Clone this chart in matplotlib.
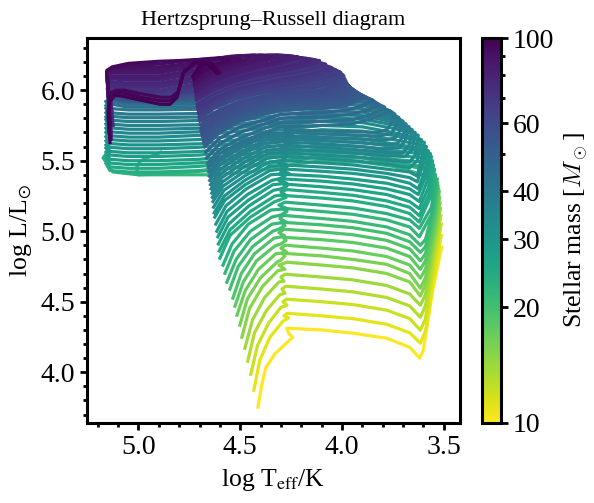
"""Hertzsprung-Russell diagram, stellar tracks coloured by initial mass."""
import matplotlib
matplotlib.use("Agg")
import matplotlib.pyplot as plt
from matplotlib.colors import LogNorm
from matplotlib.cm import ScalarMappable
from matplotlib.ticker import FixedLocator, FixedFormatter, MultipleLocator, NullFormatter

plt.rcParams["font.family"] = ["Liberation Serif", "DejaVu Serif"]
plt.rcParams["mathtext.fontset"] = "stix"

masses = [10, 11, 12, 13, 14, 15, 16, 17, 18, 19, 20, 21, 22, 23, 24, 25, 26, 27, 28, 29, 30,
          31, 32, 33, 34, 35, 36, 37, 38, 39, 40, 42, 44, 46, 48, 50, 51, 52, 53, 54, 55, 56, 57, 58, 59, 60,
          62, 63, 65, 66, 68, 70, 72, 75, 77, 78, 80, 82, 83, 85, 87, 88, 90, 93, 95, 96, 98, 100]

log_teff = [
    [4.413, 4.394, 4.375, 4.33, 4.242, 4.262, 4.271, 4.10, 3.947, 3.78, 3.667, 3.618, 3.60, 3.554, 3.51],
    [4.433, 4.404, 4.354, 4.291, 4.262, 4.285, 4.268, 4.10, 3.947, 3.78, 3.667, 3.615, 3.59, 3.55, 3.512],
    [4.448, 4.415, 4.36, 4.30, 4.27, 4.29, 4.272, 4.10, 3.947, 3.78, 3.667, 3.615, 3.59, 3.55, 3.512],
    [4.463, 4.43, 4.37, 4.305, 4.28, 4.295, 4.275, 4.10, 3.947, 3.78, 3.667, 3.615, 3.59, 3.55, 3.514],
    [4.477, 4.44, 4.38, 4.31, 4.285, 4.30, 4.28, 4.10, 3.947, 3.78, 3.667, 3.615, 3.59, 3.55, 3.516],
    [4.492, 4.455, 4.39, 4.315, 4.28, 4.31, 4.27, 4.10, 3.947, 3.78, 3.667, 3.615, 3.59, 3.55, 3.518],
    [4.502, 4.465, 4.40, 4.32, 4.30, 4.28, 4.295, 4.10, 3.947, 3.78, 3.667, 3.615, 3.59, 3.55, 3.52],
    [4.516, 4.475, 4.41, 4.325, 4.27, 4.30, 4.28, 4.10, 3.947, 3.78, 3.667, 3.615, 3.59, 3.55, 3.522],
    [4.526, 4.485, 4.42, 4.33, 4.30, 4.275, 4.29, 4.10, 3.947, 3.78, 3.667, 3.615, 3.59, 3.55, 3.525],
    [4.536, 4.495, 4.43, 4.335, 4.28, 4.31, 4.285, 4.10, 3.947, 3.78, 3.667, 3.615, 3.59, 3.55, 3.528],
    [4.551, 4.51, 4.44, 4.34, 4.31, 4.28, 4.30, 4.10, 3.947, 3.78, 3.667, 3.615, 3.59, 3.55, 3.53],
    [4.566, 4.52, 4.45, 4.345, 4.275, 4.305, 4.29, 4.10, 3.947, 3.78, 3.667, 3.615, 3.59, 3.55, 3.532],
    [4.575, 4.53, 4.45, 4.345, 4.30, 4.27, 4.295, 4.10, 3.947, 3.78, 3.667, 3.62, 3.56, 3.535, 3.60, 3.75, 3.90, 4.10, 4.26, 4.45, 4.65, 4.85, 5.0, 5.01, 4.99, 4.89],
    [4.585, 4.54, 4.46, 4.35, 4.27, 4.31, 4.28, 4.10, 3.947, 3.78, 3.667, 3.62, 3.56, 3.54, 3.60, 3.75, 3.90, 4.10, 4.26, 4.45, 4.65, 4.85, 5.0, 5.125, 5.174, 5.15],
    [4.60, 4.55, 4.45, 4.33, 4.31, 4.275, 4.30, 4.10, 3.947, 3.78, 3.667, 3.62, 3.565, 3.545, 3.60, 3.75, 3.90, 4.10, 4.30, 4.50, 4.70, 4.90, 5.05, 5.14, 5.16],
    [4.603, 4.55, 4.45, 4.33, 4.28, 4.30, 4.27, 4.10, 3.947, 3.78, 3.667, 3.62, 3.57, 3.55, 3.60, 3.75, 3.90, 4.10, 4.30, 4.50, 4.70, 4.90, 5.05, 5.14, 5.16],
    [4.607, 4.557, 4.457, 4.337, 4.30, 4.27, 4.29, 4.10, 3.947, 3.78, 3.667, 3.62, 3.575, 3.555, 3.60, 3.75, 3.90, 4.10, 4.30, 4.50, 4.70, 4.90, 5.05, 5.14, 5.16],
    [4.61, 4.56, 4.46, 4.34, 4.27, 4.31, 4.28, 4.10, 3.947, 3.78, 3.667, 3.62, 3.58, 3.56, 3.61, 3.75, 3.90, 4.10, 4.30, 4.50, 4.70, 4.90, 5.05, 5.14, 5.16],
    [4.615, 4.565, 4.465, 4.345, 4.30, 4.28, 4.31, 4.10, 3.947, 3.78, 3.667, 3.625, 3.585, 3.565, 3.615, 3.75, 3.90, 4.10, 4.30, 4.50, 4.70, 4.90, 5.05, 5.14, 5.16],
    [4.62, 4.57, 4.47, 4.35, 4.26, 4.30, 4.27, 4.10, 3.947, 3.78, 3.667, 3.625, 3.59, 3.575, 3.625, 3.75, 3.90, 4.10, 4.30, 4.50, 4.70, 4.90, 5.05, 5.14, 5.16],
    [4.625, 4.575, 4.475, 4.355, 4.30, 4.27, 4.29, 4.10, 3.947, 3.78, 3.667, 3.63, 3.60, 3.585, 3.635, 3.75, 3.90, 4.10, 4.30, 4.50, 4.70, 4.90, 5.05, 5.14, 5.16],
    [4.628, 4.578, 4.478, 4.358, 4.27, 4.31, 4.28, 4.10, 3.947, 3.78, 3.667, 3.63, 3.61, 3.595, 3.645, 3.75, 3.90, 4.10, 4.30, 4.50, 4.70, 4.90, 5.05, 5.14, 5.16],
    [4.631, 4.58, 4.48, 4.36, 4.30, 4.28, 4.30, 4.10, 3.947, 3.78, 3.667, 3.63, 3.61, 3.66, 3.75, 3.90, 4.10, 4.30, 4.50, 4.70, 4.90, 5.05, 5.14, 5.16],
    [4.634, 4.584, 4.484, 4.364, 4.27, 4.29, 4.26, 4.10, 3.947, 3.78, 3.667, 3.64, 3.625, 3.67, 3.75, 3.90, 4.10, 4.30, 4.50, 4.70, 4.90, 5.05, 5.14, 5.16],
    [4.637, 4.587, 4.487, 4.367, 4.29, 4.27, 4.30, 4.10, 3.947, 3.78, 3.69, 3.655, 3.64, 3.68, 3.75, 3.90, 4.10, 4.30, 4.50, 4.70, 4.90, 5.05, 5.14, 5.16],
    [4.64, 4.59, 4.49, 4.37, 4.27, 4.30, 4.28, 4.10, 3.947, 3.78, 3.70, 3.67, 3.655, 3.69, 3.75, 3.90, 4.10, 4.30, 4.50, 4.70, 4.90, 5.05, 5.14, 5.16],
    [4.643, 4.593, 4.493, 4.373, 4.25, 4.28, 4.26, 4.10, 3.947, 3.80, 3.72, 3.69, 3.67, 3.70, 3.75, 3.90, 4.10, 4.30, 4.50, 4.70, 4.90, 5.05, 5.14, 5.16],
    [4.646, 4.596, 4.496, 4.376, 4.28, 4.26, 4.29, 4.10, 3.947, 3.80, 3.73, 3.70, 3.685, 3.71, 3.76, 3.90, 4.10, 4.30, 4.50, 4.70, 4.90, 5.05, 5.14, 5.16],
    [4.65, 4.60, 4.50, 4.38, 4.26, 4.29, 4.27, 4.10, 3.947, 3.80, 3.74, 3.72, 3.70, 3.725, 3.77, 3.90, 4.10, 4.30, 4.50, 4.70, 4.90, 5.05, 5.14, 5.16],
    [4.652, 4.60, 4.50, 4.38, 4.24, 4.27, 4.25, 4.10, 3.947, 3.82, 3.76, 3.74, 3.72, 3.745, 3.79, 3.90, 4.10, 4.30, 4.50, 4.70, 4.90, 5.05, 5.14, 5.16],
    [4.654, 4.60, 4.50, 4.38, 4.27, 4.25, 4.28, 4.10, 3.947, 3.83, 3.78, 3.76, 3.74, 3.76, 3.80, 3.90, 4.10, 4.30, 4.50, 4.70, 4.90, 5.05, 5.14, 5.16],
    [4.657, 4.60, 4.50, 4.38, 4.30, 4.10, 3.95, 3.85, 3.76, 3.80, 3.90, 4.10, 4.30, 4.50, 4.70, 4.90, 5.05, 5.13, 5.15],
    [4.66, 4.60, 4.50, 4.38, 4.30, 4.10, 3.95, 3.85, 3.79, 3.82, 3.90, 4.10, 4.30, 4.50, 4.70, 4.90, 5.05, 5.13, 5.15],
    [4.665, 4.60, 4.50, 4.38, 4.30, 4.10, 3.95, 3.87, 3.82, 3.85, 3.92, 4.10, 4.30, 4.50, 4.70, 4.90, 5.05, 5.13, 5.15],
    [4.67, 4.60, 4.50, 4.38, 4.30, 4.10, 3.97, 3.90, 3.85, 3.88, 3.94, 4.10, 4.30, 4.50, 4.70, 4.90, 5.05, 5.13, 5.15],
    [4.675, 4.60, 4.50, 4.38, 4.30, 4.10, 3.98, 3.93, 3.88, 3.91, 3.96, 4.10, 4.30, 4.50, 4.70, 4.90, 5.05, 5.13, 5.15],
    [4.678, 4.60, 4.50, 4.38, 4.30, 4.10, 3.985, 3.94, 3.895, 3.92, 3.965, 4.10, 4.30, 4.50, 4.70, 4.90, 5.05, 5.13, 5.15],
    [4.68, 4.60, 4.50, 4.38, 4.30, 4.10, 3.99, 3.95, 3.91, 3.93, 3.97, 4.10, 4.30, 4.50, 4.70, 4.90, 5.05, 5.13, 5.15],
    [4.682, 4.60, 4.50, 4.38, 4.30, 4.10, 3.995, 3.96, 3.925, 3.945, 3.98, 4.10, 4.30, 4.50, 4.70, 4.90, 5.05, 5.13, 5.15],
    [4.685, 4.60, 4.50, 4.38, 4.30, 4.10, 4.00, 3.97, 3.94, 3.96, 3.99, 4.10, 4.30, 4.50, 4.70, 4.90, 5.05, 5.13, 5.15],
    [4.688, 4.60, 4.50, 4.38, 4.30, 4.10, 4.01, 3.98, 3.95, 3.97, 4.00, 4.10, 4.30, 4.50, 4.70, 4.90, 5.05, 5.13, 5.15],
    [4.69, 4.60, 4.50, 4.38, 4.30, 4.10, 4.02, 3.99, 3.96, 3.98, 4.01, 4.10, 4.30, 4.50, 4.70, 4.90, 5.05, 5.13, 5.15],
    [4.692, 4.60, 4.50, 4.38, 4.30, 4.10, 4.025, 3.995, 3.968, 3.99, 4.02, 4.10, 4.30, 4.50, 4.70, 4.90, 5.05, 5.13, 5.15],
    [4.693, 4.60, 4.50, 4.38, 4.30, 4.10, 4.03, 4.00, 3.975, 4.00, 4.03, 4.10, 4.30, 4.50, 4.70, 4.90, 5.05, 5.13, 5.15],
    [4.695, 4.60, 4.50, 4.38, 4.30, 4.10, 4.035, 4.005, 3.98, 4.005, 4.04, 4.10, 4.30, 4.50, 4.70, 4.90, 5.05, 5.13, 5.15],
    [4.698, 4.60, 4.50, 4.38, 4.30, 4.10, 4.04, 4.01, 3.985, 4.01, 4.05, 4.10, 4.30, 4.50, 4.70, 4.90, 5.05, 5.13, 5.15],
    [4.70, 4.62, 4.52, 4.40, 4.30, 4.13, 4.05, 4.015, 3.99, 4.02, 4.08, 4.30, 4.50, 4.70, 4.90, 5.05, 5.13, 5.15],
    [4.70, 4.62, 4.52, 4.40, 4.30, 4.15, 4.06, 4.02, 3.995, 4.03, 4.10, 4.30, 4.50, 4.70, 4.90, 5.05, 5.13, 5.15],
    [4.703, 4.62, 4.52, 4.40, 4.30, 4.17, 4.07, 4.03, 4.005, 4.04, 4.11, 4.30, 4.50, 4.70, 4.90, 5.05, 5.13, 5.15],
    [4.705, 4.62, 4.52, 4.40, 4.30, 4.18, 4.08, 4.04, 4.01, 4.05, 4.12, 4.30, 4.50, 4.70, 4.90, 5.05, 5.13, 5.15],
    [4.708, 4.62, 4.52, 4.40, 4.30, 4.19, 4.10, 4.06, 4.03, 4.07, 4.13, 4.30, 4.50, 4.70, 4.90, 5.05, 5.13, 5.15],
    [4.71, 4.62, 4.52, 4.40, 4.30, 4.20, 4.12, 4.08, 4.05, 4.09, 4.15, 4.30, 4.50, 4.70, 4.90, 5.05, 5.13, 5.15, 5.14, 5.13],
    [4.712, 4.625, 4.525, 4.41, 4.31, 4.22, 4.145, 4.105, 4.08, 4.12, 4.185, 4.32, 4.50, 4.70, 4.90, 5.05, 5.13, 5.15, 5.14, 5.13],
    [4.715, 4.63, 4.53, 4.42, 4.32, 4.24, 4.17, 4.13, 4.11, 4.15, 4.22, 4.35, 4.50, 4.70, 4.90, 5.05, 5.13, 5.15, 5.14, 5.125],
    [4.716, 4.633, 4.535, 4.425, 4.33, 4.255, 4.19, 4.15, 4.13, 4.17, 4.24, 4.38, 4.50, 4.70, 4.90, 5.05, 5.13, 5.155, 5.15, 5.14],
    [4.717, 4.635, 4.54, 4.43, 4.34, 4.27, 4.21, 4.175, 4.155, 4.195, 4.27, 4.40, 4.50, 4.70, 4.90, 5.05, 5.13, 5.155, 5.15, 5.14],
    [4.718, 4.64, 4.55, 4.45, 4.36, 4.30, 4.25, 4.22, 4.20, 4.24, 4.32, 4.50, 4.70, 4.90, 5.05, 5.13, 5.155, 5.15, 5.14],
    [4.719, 4.643, 4.555, 4.46, 4.37, 4.31, 4.26, 4.23, 4.215, 4.26, 4.34, 4.50, 4.70, 4.90, 5.05, 5.13, 5.155, 5.15, 5.14],
    [4.72, 4.645, 4.56, 4.465, 4.38, 4.32, 4.275, 4.33, 4.50, 4.70, 4.90, 5.05, 5.13, 5.155, 5.15, 5.135],
    [4.722, 4.65, 4.57, 4.48, 4.40, 4.34, 4.30, 4.36, 4.50, 4.70, 4.90, 5.05, 5.13, 5.155, 5.15, 5.135],
    [4.723, 4.653, 4.573, 4.485, 4.415, 4.37, 4.35, 4.40, 4.52, 4.70, 4.90, 5.05, 5.13, 5.155, 5.15, 5.135],
    [4.724, 4.655, 4.575, 4.49, 4.43, 4.40, 4.43, 4.55, 4.72, 4.90, 5.05, 5.13, 5.155, 5.15, 5.135],
    [4.725, 4.66, 4.58, 4.50, 4.46, 4.45, 4.50, 4.60, 4.75, 4.90, 5.05, 5.13, 5.155, 5.15, 5.14],
    [4.727, 4.67, 4.60, 4.53, 4.50, 4.55, 4.65, 4.78, 4.90, 5.05, 5.13, 5.155, 5.15, 5.14],
    [4.728, 4.68, 4.63, 4.58, 4.55, 4.60, 4.68, 4.80, 4.90, 5.05, 5.13, 5.155, 5.15, 5.14],
    [4.729, 4.69, 4.664, 4.63, 4.60, 4.664, 4.72, 4.775, 4.79, 4.805, 4.84, 4.89, 4.99, 5.07, 5.11, 5.14, 5.15, 5.145],
    [4.73, 4.695, 4.67, 4.635, 4.61, 4.67, 4.72, 4.778, 4.793, 4.808, 4.842, 4.892, 4.99, 5.073, 5.112, 5.14, 5.148, 5.14],
    [4.732, 4.70, 4.674, 4.64, 4.615, 4.674, 4.723, 4.78, 4.796, 4.81, 4.845, 4.894, 4.993, 5.076, 5.115, 5.14, 5.145, 5.14],
]

log_lum = [
    [3.752, 3.91, 4.03, 4.13, 4.248, 4.275, 4.312, 4.30, 4.277, 4.241, 4.177, 4.10, 4.156, 4.58, 4.887],
    [3.872, 4.085, 4.248, 4.36, 4.385, 4.40, 4.418, 4.40, 4.38, 4.34, 4.28, 4.206, 4.29, 4.65, 4.97],
    [3.986, 4.19, 4.35, 4.46, 4.475, 4.50, 4.518, 4.50, 4.48, 4.44, 4.38, 4.298, 4.38, 4.75, 5.05],
    [4.078, 4.28, 4.44, 4.55, 4.56, 4.59, 4.61, 4.59, 4.57, 4.53, 4.47, 4.39, 4.47, 4.82, 5.11],
    [4.17, 4.37, 4.53, 4.64, 4.645, 4.675, 4.695, 4.675, 4.655, 4.615, 4.555, 4.475, 4.55, 4.88, 5.16],
    [4.248, 4.45, 4.61, 4.72, 4.73, 4.76, 4.78, 4.76, 4.74, 4.70, 4.64, 4.54, 4.62, 4.92, 5.20],
    [4.333, 4.52, 4.67, 4.78, 4.795, 4.825, 4.844, 4.825, 4.80, 4.765, 4.70, 4.596, 4.67, 4.96, 5.24],
    [4.404, 4.58, 4.73, 4.84, 4.85, 4.88, 4.901, 4.88, 4.86, 4.82, 4.76, 4.667, 4.73, 5.0, 5.28],
    [4.468, 4.64, 4.79, 4.895, 4.91, 4.935, 4.957, 4.94, 4.92, 4.88, 4.82, 4.73, 4.79, 5.04, 5.30],
    [4.525, 4.70, 4.84, 4.95, 4.965, 4.99, 5.014, 4.995, 4.975, 4.935, 4.875, 4.79, 4.84, 5.08, 5.32],
    [4.589, 4.75, 4.89, 5.0, 5.015, 5.04, 5.064, 5.045, 5.025, 4.985, 4.925, 4.85, 4.89, 5.12, 5.34],
    [4.638, 4.80, 4.94, 5.05, 5.065, 5.09, 5.113, 5.09, 5.07, 5.03, 4.975, 4.90, 4.94, 5.16, 5.37],
    [4.702, 4.86, 5.0, 5.10, 5.115, 5.14, 5.163, 5.14, 5.12, 5.08, 5.03, 4.96, 5.12, 5.36, 5.40, 5.46, 5.49, 5.50, 5.47, 5.42, 5.40, 5.40, 5.40, 5.45, 5.50, 5.56],
    [4.759, 4.91, 5.05, 5.15, 5.16, 5.185, 5.206, 5.185, 5.165, 5.125, 5.08, 5.02, 5.17, 5.40, 5.44, 5.49, 5.52, 5.53, 5.50, 5.46, 5.43, 5.41, 5.40, 5.42, 5.52, 5.565],
    [4.809, 4.97, 5.10, 5.21, 5.22, 5.24, 5.255, 5.235, 5.215, 5.175, 5.125, 5.065, 5.245, 5.44, 5.46, 5.48, 5.52, 5.53, 5.50, 5.46, 5.43, 5.42, 5.42, 5.43, 5.48],
    [4.86, 5.01, 5.14, 5.25, 5.26, 5.28, 5.295, 5.275, 5.255, 5.215, 5.17, 5.11, 5.27, 5.47, 5.49, 5.51, 5.55, 5.56, 5.53, 5.49, 5.46, 5.446, 5.446, 5.456, 5.51],
    [4.91, 5.05, 5.18, 5.29, 5.30, 5.32, 5.335, 5.315, 5.295, 5.26, 5.21, 5.16, 5.31, 5.50, 5.52, 5.54, 5.57, 5.585, 5.55, 5.515, 5.485, 5.473, 5.473, 5.483, 5.53],
    [4.96, 5.10, 5.22, 5.33, 5.34, 5.36, 5.37, 5.355, 5.335, 5.30, 5.26, 5.21, 5.36, 5.53, 5.55, 5.57, 5.60, 5.61, 5.58, 5.54, 5.51, 5.50, 5.50, 5.51, 5.56],
    [5.0, 5.14, 5.26, 5.36, 5.375, 5.39, 5.405, 5.39, 5.37, 5.34, 5.30, 5.26, 5.40, 5.55, 5.57, 5.60, 5.63, 5.64, 5.61, 5.57, 5.54, 5.53, 5.53, 5.54, 5.59],
    [5.05, 5.18, 5.30, 5.40, 5.41, 5.425, 5.44, 5.425, 5.41, 5.38, 5.34, 5.30, 5.44, 5.57, 5.59, 5.62, 5.655, 5.665, 5.635, 5.595, 5.565, 5.556, 5.556, 5.566, 5.61],
    [5.10, 5.22, 5.33, 5.43, 5.44, 5.455, 5.47, 5.455, 5.44, 5.41, 5.38, 5.35, 5.48, 5.60, 5.62, 5.65, 5.68, 5.69, 5.665, 5.625, 5.595, 5.585, 5.585, 5.595, 5.64],
    [5.13, 5.25, 5.36, 5.46, 5.47, 5.485, 5.50, 5.485, 5.47, 5.44, 5.42, 5.39, 5.51, 5.63, 5.65, 5.68, 5.71, 5.72, 5.69, 5.65, 5.62, 5.612, 5.612, 5.622, 5.67],
    [5.17, 5.29, 5.39, 5.49, 5.50, 5.515, 5.53, 5.515, 5.50, 5.475, 5.45, 5.50, 5.65, 5.67, 5.70, 5.74, 5.75, 5.72, 5.68, 5.65, 5.64, 5.64, 5.65, 5.70],
    [5.21, 5.32, 5.42, 5.52, 5.53, 5.54, 5.555, 5.54, 5.53, 5.505, 5.49, 5.54, 5.68, 5.70, 5.73, 5.77, 5.78, 5.75, 5.71, 5.68, 5.667, 5.667, 5.677, 5.73],
    [5.24, 5.35, 5.45, 5.55, 5.56, 5.57, 5.58, 5.57, 5.555, 5.535, 5.53, 5.58, 5.70, 5.72, 5.755, 5.795, 5.805, 5.775, 5.735, 5.705, 5.695, 5.695, 5.705, 5.76],
    [5.27, 5.38, 5.48, 5.575, 5.585, 5.595, 5.605, 5.595, 5.58, 5.56, 5.555, 5.61, 5.72, 5.74, 5.775, 5.82, 5.83, 5.80, 5.76, 5.73, 5.723, 5.723, 5.733, 5.79],
    [5.30, 5.41, 5.51, 5.60, 5.61, 5.62, 5.63, 5.62, 5.605, 5.585, 5.59, 5.64, 5.74, 5.76, 5.79, 5.845, 5.855, 5.825, 5.785, 5.755, 5.75, 5.75, 5.76, 5.81],
    [5.33, 5.44, 5.54, 5.625, 5.635, 5.645, 5.655, 5.645, 5.63, 5.615, 5.62, 5.67, 5.76, 5.78, 5.81, 5.87, 5.88, 5.85, 5.81, 5.785, 5.778, 5.778, 5.788, 5.84],
    [5.36, 5.47, 5.56, 5.645, 5.655, 5.665, 5.675, 5.665, 5.655, 5.645, 5.66, 5.70, 5.78, 5.80, 5.83, 5.895, 5.905, 5.875, 5.84, 5.81, 5.805, 5.805, 5.815, 5.87],
    [5.39, 5.50, 5.59, 5.67, 5.68, 5.69, 5.70, 5.69, 5.68, 5.675, 5.69, 5.73, 5.805, 5.825, 5.85, 5.915, 5.925, 5.895, 5.86, 5.835, 5.83, 5.83, 5.84, 5.89],
    [5.42, 5.52, 5.61, 5.69, 5.70, 5.71, 5.72, 5.71, 5.705, 5.70, 5.72, 5.76, 5.83, 5.85, 5.875, 5.935, 5.945, 5.915, 5.885, 5.865, 5.86, 5.86, 5.87, 5.92],
    [5.45, 5.55, 5.63, 5.70, 5.74, 5.75, 5.76, 5.80, 5.85, 5.87, 5.92, 5.93, 5.93, 5.90, 5.88, 5.88, 5.88, 5.90, 5.95],
    [5.48, 5.58, 5.66, 5.73, 5.77, 5.78, 5.79, 5.83, 5.88, 5.90, 5.95, 5.96, 5.95, 5.92, 5.90, 5.90, 5.90, 5.92, 5.97],
    [5.52, 5.62, 5.70, 5.76, 5.80, 5.81, 5.83, 5.86, 5.90, 5.93, 5.97, 5.98, 5.97, 5.94, 5.92, 5.92, 5.92, 5.94, 5.99],
    [5.56, 5.66, 5.74, 5.79, 5.83, 5.84, 5.86, 5.89, 5.93, 5.95, 5.99, 6.0, 5.99, 5.96, 5.93, 5.93, 5.93, 5.95, 6.0],
    [5.60, 5.70, 5.78, 5.83, 5.86, 5.87, 5.89, 5.92, 5.95, 5.97, 6.01, 6.02, 6.01, 5.98, 5.94, 5.94, 5.94, 5.96, 6.01],
    [5.62, 5.715, 5.795, 5.845, 5.875, 5.885, 5.905, 5.93, 5.96, 5.98, 6.02, 6.03, 6.02, 5.99, 5.945, 5.92, 5.92, 5.94, 6.0],
    [5.64, 5.73, 5.81, 5.86, 5.89, 5.90, 5.92, 5.94, 5.97, 5.99, 6.03, 6.04, 6.03, 6.0, 5.95, 5.92, 5.92, 5.94, 6.0],
    [5.655, 5.745, 5.825, 5.875, 5.90, 5.915, 5.935, 5.955, 5.98, 6.005, 6.04, 6.05, 6.04, 6.01, 5.955, 5.925, 5.925, 5.945, 6.0],
    [5.67, 5.76, 5.84, 5.89, 5.91, 5.93, 5.95, 5.97, 5.99, 6.02, 6.05, 6.06, 6.05, 6.02, 5.96, 5.93, 5.93, 5.95, 6.0],
    [5.685, 5.775, 5.85, 5.90, 5.925, 5.94, 5.96, 5.98, 6.005, 6.035, 6.06, 6.07, 6.06, 6.03, 5.965, 5.935, 5.935, 5.955, 6.005],
    [5.70, 5.79, 5.86, 5.91, 5.94, 5.95, 5.97, 5.99, 6.02, 6.05, 6.07, 6.08, 6.07, 6.04, 5.97, 5.94, 5.94, 5.96, 6.01],
    [5.715, 5.805, 5.875, 5.925, 5.95, 5.965, 5.985, 6.005, 6.035, 6.065, 6.08, 6.09, 6.08, 6.05, 5.975, 5.94, 5.94, 5.96, 6.01],
    [5.73, 5.82, 5.89, 5.94, 5.96, 5.98, 6.0, 6.02, 6.05, 6.08, 6.09, 6.10, 6.09, 6.06, 5.98, 5.94, 5.94, 5.96, 6.01],
    [5.755, 5.84, 5.905, 5.95, 5.97, 5.99, 6.015, 6.035, 6.065, 6.095, 6.105, 6.11, 6.10, 6.065, 5.985, 5.945, 5.945, 5.965, 6.015],
    [5.78, 5.86, 5.92, 5.96, 5.98, 6.0, 6.03, 6.05, 6.08, 6.11, 6.12, 6.12, 6.11, 6.07, 5.99, 5.95, 5.95, 5.97, 6.02],
    [5.80, 5.88, 5.94, 5.98, 6.0, 6.02, 6.05, 6.07, 6.10, 6.12, 6.13, 6.115, 6.07, 5.995, 5.95, 5.95, 5.97, 6.02],
    [5.81, 5.89, 5.95, 5.99, 6.01, 6.04, 6.07, 6.09, 6.11, 6.13, 6.14, 6.12, 6.08, 6.0, 5.96, 5.96, 5.98, 6.03],
    [5.83, 5.91, 5.97, 6.01, 6.03, 6.06, 6.09, 6.11, 6.125, 6.145, 6.155, 6.135, 6.10, 6.01, 5.96, 5.96, 5.98, 6.03],
    [5.84, 5.92, 5.98, 6.02, 6.04, 6.07, 6.10, 6.12, 6.13, 6.15, 6.16, 6.14, 6.10, 6.02, 5.97, 5.97, 5.99, 6.04],
    [5.86, 5.935, 5.995, 6.035, 6.06, 6.085, 6.115, 6.135, 6.145, 6.165, 6.175, 6.16, 6.12, 6.03, 5.98, 5.98, 6.0, 6.05],
    [5.88, 5.95, 6.01, 6.05, 6.08, 6.10, 6.13, 6.15, 6.16, 6.18, 6.19, 6.18, 6.14, 6.04, 5.99, 5.99, 6.01, 6.06, 6.0, 5.85],
    [5.90, 5.975, 6.035, 6.075, 6.105, 6.125, 6.15, 6.17, 6.185, 6.20, 6.205, 6.20, 6.16, 6.05, 6.0, 6.0, 6.02, 6.07, 6.0, 5.80],
    [5.93, 6.0, 6.06, 6.10, 6.13, 6.15, 6.17, 6.19, 6.21, 6.215, 6.22, 6.22, 6.18, 6.07, 6.02, 6.02, 6.03, 6.08, 6.0, 5.75],
    [5.95, 6.02, 6.07, 6.11, 6.14, 6.16, 6.18, 6.20, 6.215, 6.225, 6.23, 6.23, 6.195, 6.09, 6.035, 6.035, 6.05, 6.09, 6.0, 5.73],
    [5.96, 6.03, 6.08, 6.12, 6.15, 6.17, 6.19, 6.205, 6.22, 6.23, 6.235, 6.235, 6.20, 6.10, 6.05, 6.05, 6.06, 6.10, 6.0, 5.72],
    [5.98, 6.05, 6.10, 6.14, 6.17, 6.19, 6.21, 6.22, 6.23, 6.24, 6.25, 6.21, 6.12, 6.07, 6.07, 6.08, 6.11, 6.0, 5.70],
    [5.99, 6.06, 6.11, 6.15, 6.18, 6.20, 6.22, 6.23, 6.235, 6.245, 6.25, 6.225, 6.14, 6.085, 6.085, 6.09, 6.12, 6.0, 5.69],
    [6.0, 6.065, 6.115, 6.155, 6.185, 6.205, 6.235, 6.245, 6.23, 6.15, 6.10, 6.10, 6.10, 6.125, 6.0, 5.68],
    [6.02, 6.08, 6.13, 6.17, 6.20, 6.22, 6.24, 6.25, 6.24, 6.17, 6.12, 6.12, 6.12, 6.13, 6.0, 5.65],
    [6.03, 6.095, 6.145, 6.18, 6.21, 6.225, 6.24, 6.25, 6.24, 6.18, 6.135, 6.135, 6.135, 6.13, 6.02, 5.66],
    [6.04, 6.10, 6.15, 6.19, 6.215, 6.235, 6.25, 6.24, 6.19, 6.15, 6.15, 6.14, 6.13, 6.03, 5.70],
    [6.05, 6.11, 6.16, 6.20, 6.22, 6.24, 6.245, 6.23, 6.19, 6.165, 6.16, 6.15, 6.13, 6.05, 5.75],
    [6.07, 6.13, 6.17, 6.205, 6.22, 6.235, 6.225, 6.205, 6.185, 6.175, 6.155, 6.14, 6.05, 5.72],
    [6.08, 6.14, 6.18, 6.20, 6.215, 6.225, 6.22, 6.21, 6.205, 6.19, 6.165, 6.14, 6.06, 5.75],
    [6.09, 6.15, 6.19, 6.18, 6.12, 6.19, 6.19, 6.14, 6.06, 5.99, 5.95, 5.95, 5.975, 6.0, 6.0, 5.98, 5.85, 5.70],
    [6.095, 6.16, 6.195, 6.185, 6.12, 6.2, 6.195, 6.13, 6.05, 5.97, 5.925, 5.925, 5.95, 5.98, 5.985, 5.95, 5.8, 5.65],
    [6.10, 6.17, 6.20, 6.19, 6.12, 6.205, 6.2, 6.12, 6.035, 5.95, 5.90, 5.90, 5.93, 5.957, 5.965, 5.92, 5.80, 5.63],
]

cbar_ticks = [10, 20, 30, 40, 60, 100]
cbar_minor = [50, 70, 80, 90]

W, H = 594, 503
fig = plt.figure(figsize=(W / 100, H / 100), dpi=100)
ax = fig.add_axes([87 / W, 1 - 423 / H, 373 / W, 385 / H])
cax = fig.add_axes([482 / W, 1 - 423 / H, 19 / W, 385 / H])

norm = LogNorm(vmin=10, vmax=100)
cmap = plt.get_cmap("viridis_r")

for m, t, l in zip(masses, log_teff, log_lum):
    ax.plot(t, l, color=cmap(norm(m)), lw=2.3, solid_joinstyle="round")

ax.set_xlim(5.253, 3.42)
ax.set_ylim(3.64, 6.37)
ax.xaxis.set_major_locator(MultipleLocator(0.5))
ax.xaxis.set_minor_locator(MultipleLocator(0.1))
ax.yaxis.set_major_locator(MultipleLocator(0.5))
ax.yaxis.set_minor_locator(MultipleLocator(0.1))
ax.tick_params(which="major", length=5, width=2, labelsize=20)
ax.tick_params(which="minor", length=3, width=2)
for s in ax.spines.values():
    s.set_linewidth(2.2)
ax.set_xlabel(r"log T$_{\mathrm{eff}}$/K", fontsize=18.5, labelpad=5)
ax.set_ylabel(r"log L/L$_{\odot}$", fontsize=18.5, labelpad=5)
ax.set_title("Hertzsprung–Russell diagram", fontsize=16, pad=9)

cb = fig.colorbar(ScalarMappable(norm=norm, cmap=cmap), cax=cax)
cb.ax.yaxis.set_major_locator(FixedLocator(cbar_ticks))
cb.ax.yaxis.set_major_formatter(FixedFormatter([str(v) for v in cbar_ticks]))
cb.ax.yaxis.set_minor_locator(FixedLocator(cbar_minor))
cb.ax.yaxis.set_minor_formatter(NullFormatter())
cb.ax.tick_params(which="major", length=5, width=2, labelsize=20)
cb.ax.tick_params(which="minor", length=3, width=2)
cb.outline.set_linewidth(2.2)
cb.set_label(r"Stellar mass [$M_\odot$]", fontsize=18.5, labelpad=6, math_fontfamily="cm")

fig.savefig("out.png", dpi=100)
